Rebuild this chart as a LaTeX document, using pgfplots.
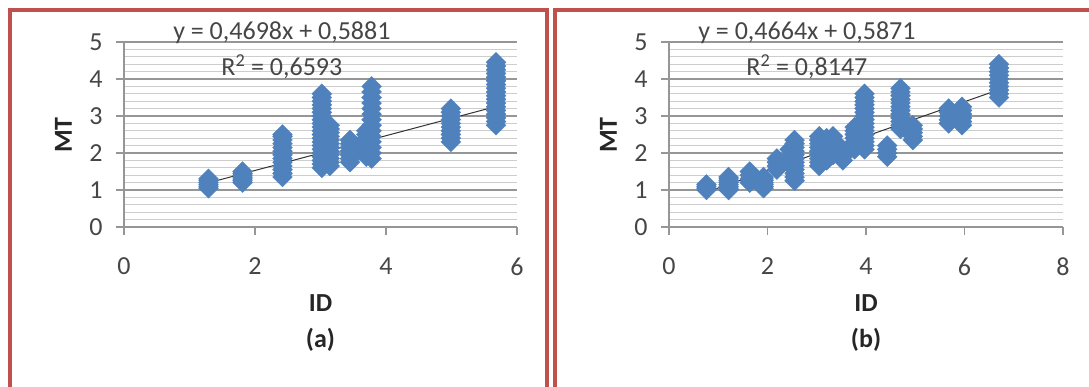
\documentclass[border=0pt]{standalone}
\usepackage{fontspec}
\setmainfont{Carlito}
\usepackage{pgfplots}
\usepackage{pgfplotstable}
\pgfplotsset{compat=1.18}
\definecolor{framec}{RGB}{192,80,77}
\definecolor{pts}{RGB}{79,129,189}
\definecolor{majg}{RGB}{150,150,150}
\definecolor{ming}{RGB}{205,205,205}
\definecolor{txt}{RGB}{70,70,70}

\pgfplotstableread{
x y
1.29 1.05
1.29 1.10
1.29 1.15
1.29 1.20
1.29 1.25
1.29 1.30
1.81 1.20
1.81 1.25
1.81 1.30
1.81 1.35
1.81 1.40
1.81 1.45
1.81 1.50
2.42 1.35
2.42 1.45
2.42 1.55
2.42 1.65
2.42 1.75
2.42 1.85
2.42 1.95
2.42 2.05
2.42 2.15
2.42 2.25
2.42 2.35
2.42 2.45
2.42 2.50
3.02 1.60
3.02 1.70
3.02 1.80
3.02 1.90
3.02 2.00
3.02 2.10
3.02 2.20
3.02 2.30
3.02 2.40
3.02 2.50
3.02 2.60
3.02 2.70
3.02 2.80
3.02 2.90
3.02 3.00
3.02 3.10
3.02 3.20
3.02 3.30
3.02 3.40
3.02 3.50
3.02 3.60
3.14 1.65
3.14 1.75
3.14 1.85
3.14 1.95
3.14 2.05
3.14 2.15
3.14 2.25
3.14 2.35
3.14 2.45
3.14 2.55
3.14 2.65
3.14 2.75
3.45 1.75
3.45 1.85
3.45 1.95
3.45 2.05
3.45 2.15
3.45 2.25
3.45 2.35
3.70 1.90
3.70 2.00
3.70 2.10
3.70 2.20
3.70 2.30
3.70 2.40
3.70 2.50
3.70 2.60
3.78 1.85
3.78 2.00
3.78 2.15
3.78 2.30
3.78 2.45
3.78 2.60
3.78 2.75
3.78 2.90
3.78 3.05
3.78 3.20
3.78 3.35
3.78 3.50
3.78 3.65
3.78 3.80
4.99 2.30
4.99 2.40
4.99 2.50
4.99 2.60
4.99 2.70
4.99 2.80
4.99 2.90
4.99 3.00
4.99 3.10
4.99 3.20
5.68 2.75
5.68 2.85
5.68 2.95
5.68 3.05
5.68 3.15
5.68 3.25
5.68 3.35
5.68 3.45
5.68 3.55
5.68 3.65
5.68 3.75
5.68 3.85
5.68 3.95
5.68 4.05
5.68 4.15
5.68 4.25
5.68 4.35
5.68 4.45
}\dataA

\pgfplotstableread{
x y
0.76 1.00
0.76 1.05
0.76 1.10
0.76 1.15
1.21 1.00
1.21 1.05
1.21 1.10
1.21 1.15
1.21 1.20
1.21 1.25
1.21 1.30
1.21 1.35
1.64 1.20
1.64 1.30
1.64 1.40
1.64 1.50
1.92 1.05
1.92 1.10
1.92 1.15
1.92 1.20
1.92 1.25
1.92 1.30
1.92 1.35
2.19 1.55
2.19 1.65
2.19 1.75
2.19 1.85
2.45 1.70
2.45 1.90
2.45 2.10
2.55 1.25
2.55 1.35
2.55 1.45
2.55 1.55
2.55 1.65
2.55 1.75
2.55 1.85
2.55 1.95
2.55 2.05
2.55 2.15
2.55 2.25
2.55 2.35
3.05 1.65
3.05 1.75
3.05 1.85
3.05 1.95
3.05 2.05
3.05 2.15
3.05 2.25
3.05 2.35
3.05 2.45
3.20 1.80
3.20 1.90
3.20 2.00
3.20 2.10
3.20 2.20
3.20 2.30
3.20 2.40
3.33 1.95
3.33 2.05
3.33 2.15
3.33 2.25
3.33 2.35
3.33 2.45
3.53 1.80
3.53 1.90
3.53 2.00
3.53 2.10
3.77 2.10
3.77 2.20
3.77 2.30
3.77 2.40
3.77 2.50
3.77 2.60
3.77 2.70
3.97 2.10
3.97 2.20
3.97 2.30
3.97 2.40
3.97 2.50
3.97 2.60
3.97 2.70
3.97 2.80
3.97 2.90
3.97 3.00
3.97 3.10
3.97 3.20
3.97 3.30
3.97 3.40
3.97 3.50
3.97 3.60
4.43 1.90
4.43 2.00
4.43 2.10
4.43 2.20
4.70 2.65
4.70 2.75
4.70 2.85
4.70 2.95
4.70 3.05
4.70 3.15
4.70 3.25
4.70 3.35
4.70 3.45
4.70 3.55
4.70 3.65
4.70 3.75
4.95 2.35
4.95 2.45
4.95 2.55
4.95 2.65
4.95 2.75
5.68 2.80
5.68 2.90
5.68 3.00
5.68 3.10
5.68 3.20
5.95 2.75
5.95 2.85
5.95 2.95
5.95 3.05
5.95 3.15
5.95 3.25
6.70 3.50
6.70 3.60
6.70 3.70
6.70 3.80
6.70 3.90
6.70 4.00
6.70 4.10
6.70 4.20
6.70 4.30
6.70 4.40
}\dataB

\pgfplotsset{exc/.style={
 scale only axis, height=185pt,
 ymin=0, ymax=5, ytick={0,1,2,3,4,5}, minor y tick num=4,
 ymajorgrids, yminorgrids,
 major grid style={majg, line width=1.3pt},
 minor grid style={ming, line width=0.9pt},
 axis x line*=bottom, axis y line*=left,
 axis line style={-, majg, line width=1.3pt},
 tick align=outside, major tick length=8pt, minor tick length=0pt,
 tick style={majg, line width=1.3pt},
 ticklabel style={font=\fontsize{26}{26}\selectfont, text=txt},
 yticklabel style={xshift=-10pt},
 xticklabel style={yshift=-19pt},
 /pgf/number format/assume math mode=true,
 xlabel={\bfseries ID}, ylabel={\bfseries MT},
 label style={font=\fontsize{26}{26}\selectfont, text=black!85},
 xlabel style={at={(axis description cs:0.5,-0.41)}, anchor=center},
 ylabel style={at={(axis description cs:-0.154,0.497)}, anchor=center},
 clip=false,
}}

\begin{document}
\begin{tikzpicture}[x=1pt,y=1pt]
\clip (0,0) rectangle (1089,387);
\fill[white] (0,0) rectangle (1089,387);
\draw[framec, line width=4pt] (9.5,-20) -- (9.5,376.5) -- (546.5,376.5) -- (546.5,-20);
\draw[framec, line width=4pt] (554.5,-20) -- (554.5,376.5) -- (1100,376.5);

\begin{axis}[exc, width=393pt, at={(124pt,160pt)}, anchor=south west, xmin=0, xmax=6, xtick={0,2,4,6}]
\addplot[only marks, mark=square*, mark size=7pt, mark options={rotate=45, fill=pts, draw=pts}] table[x=x,y=y] {\dataA};
\addplot[black!80, line width=1pt] coordinates {(1.29,1.1942) (5.68,3.2566)};
\node[font=\fontsize{26}{26}\selectfont, text=txt] at (axis cs:2.41,5.24) {y = 0,4698x + 0,5881};
\node[font=\fontsize{26}{26}\selectfont, text=txt] at (axis cs:2.41,4.32) {R\textsuperscript{2} = 0,6593};
\node[font=\fontsize{26}{26}\selectfont\bfseries, text=black!85] at (axis description cs:0.5,-0.61) {(a)};
\end{axis}

\begin{axis}[exc, width=394pt, at={(669pt,160pt)}, anchor=south west, xmin=0, xmax=8, xtick={0,2,4,6,8}]
\addplot[only marks, mark=square*, mark size=7pt, mark options={rotate=45, fill=pts, draw=pts}] table[x=x,y=y] {\dataB};
\addplot[black!80, line width=1pt] coordinates {(0.76,0.9416) (6.70,3.7120)};
\node[font=\fontsize{26}{26}\selectfont, text=txt] at (axis cs:2.80,5.24) {y = 0,4664x + 0,5871};
\node[font=\fontsize{26}{26}\selectfont, text=txt] at (axis cs:2.80,4.32) {R\textsuperscript{2} = 0,8147};
\node[font=\fontsize{26}{26}\selectfont\bfseries, text=black!85] at (axis description cs:0.5,-0.61) {(b)};
\end{axis}
\end{tikzpicture}
\end{document}
